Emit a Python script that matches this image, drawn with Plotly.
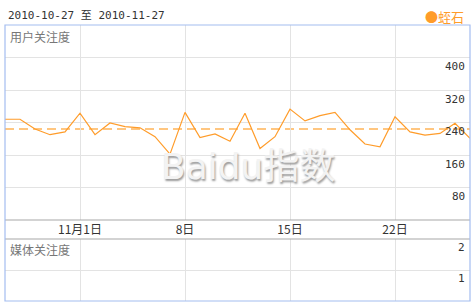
import plotly.graph_objects as go
import pandas as pd

W, H = 475, 307

start_date = "2010-10-27"
end_date = "2010-11-27"
user_attention = [248, 248, 224, 210, 217, 263, 210, 239, 230, 227, 205, 162,
                  265, 203, 212, 194, 263, 176, 205, 273, 244, 257, 265, 222,
                  187, 180, 254, 217, 209, 213, 238, 201]
dates = pd.date_range(start_date, periods=len(user_attention), freq="D")
avg_value = sum(user_attention) / len(user_attention)

x_tick_dates = ["2010-11-01", "2010-11-08", "2010-11-15", "2010-11-22"]
x_tick_text = ["11月1日", "8日", "15日", "22日"]
upper_ticks = [80, 160, 240, 320, 400]
lower_ticks = [1, 2]
upper_range = [0, 480]
lower_range = [0, 2]
series_name = "蛭石"

def px_x(x):
    return x / W

def px_y(y):
    return 1 - y / H

LEFT, RIGHT, TOP, MID1, MID2, BOTTOM = 5, 470, 25, 220, 239, 301
ORANGE = "#ff9c2a"
GRID = "#e3e3e3"
BLUE = "#a4bdf0"
MONO = "DejaVu Sans Mono, Noto Sans CJK SC"
CJK = "Noto Sans CJK SC, DejaVu Sans"

fig = go.Figure()
fig.add_trace(go.Scatter(x=dates, y=user_attention, mode="lines",
                         line=dict(color=ORANGE, width=1.2),
                         xaxis="x", yaxis="y", showlegend=False, hoverinfo="skip"))
fig.add_trace(go.Scatter(x=[dates[0], dates[-1]], y=[None, None], mode="lines",
                         xaxis="x2", yaxis="y2", showlegend=False, hoverinfo="skip"))

xcommon = dict(range=[dates[0], dates[-1]], tickvals=x_tick_dates, showgrid=True,
               gridcolor=GRID, gridwidth=1, zeroline=False, showline=False,
               ticks="", domain=[px_x(LEFT), px_x(RIGHT)])

fig.update_layout(
    width=W, height=H, margin=dict(l=0, r=0, t=0, b=0),
    paper_bgcolor="white", plot_bgcolor="white",
    xaxis=dict(**xcommon, anchor="y", ticktext=x_tick_text, showticklabels=True,
               tickfont=dict(family=CJK, size=12, color="#333"), ticklabelstandoff=1),
    xaxis2=dict(**xcommon, anchor="y2", matches="x", showticklabels=False),
    yaxis=dict(range=upper_range, domain=[px_y(MID1), px_y(TOP)], tickvals=upper_ticks,
               showgrid=True, gridcolor=GRID, showticklabels=False, zeroline=False,
               showline=False, ticks=""),
    yaxis2=dict(range=lower_range, domain=[px_y(BOTTOM), px_y(MID2)], tickvals=lower_ticks,
                showgrid=True, gridcolor=GRID, showticklabels=False, zeroline=False,
                showline=False, ticks=""),
)

shapes = []
shapes.append(dict(type="line", xref="paper", yref="y", x0=px_x(LEFT), x1=px_x(RIGHT),
                   y0=avg_value, y1=avg_value,
                   line=dict(color="#ffc680", width=2, dash="9px,5px"), layer="below"))
for yy in (MID1, MID2):
    shapes.append(dict(type="line", xref="paper", yref="paper", x0=px_x(LEFT), x1=px_x(RIGHT),
                       y0=px_y(yy), y1=px_y(yy), line=dict(color="#a8a8a8", width=1.2)))
shapes.append(dict(type="rect", xref="paper", yref="paper", x0=px_x(LEFT), x1=px_x(RIGHT),
                   y0=px_y(BOTTOM), y1=px_y(TOP), line=dict(color=BLUE, width=1.2)))
fig.update_layout(shapes=shapes)

ann = []
ann.append(dict(text=f"{start_date} 至 {end_date}", xref="paper", yref="paper",
                x=px_x(6), y=px_y(15), xanchor="left", yanchor="middle", showarrow=False,
                font=dict(family=MONO, size=11, color="#333")))
ann.append(dict(text=f"●{series_name}", xref="paper", yref="paper",
                x=px_x(466), y=px_y(16), xanchor="right", yanchor="middle", showarrow=False,
                font=dict(family=CJK, size=13, color=ORANGE)))
ann.append(dict(text="用户关注度", xref="paper", yref="paper", x=px_x(8), y=px_y(36),
                xanchor="left", yanchor="middle", showarrow=False,
                font=dict(family=CJK, size=12, color="#777")))
ann.append(dict(text="媒体关注度", xref="paper", yref="paper", x=px_x(8), y=px_y(249),
                xanchor="left", yanchor="middle", showarrow=False,
                font=dict(family=CJK, size=12, color="#777")))
for v in upper_ticks:
    ann.append(dict(text=str(v), xref="paper", yref="y", x=px_x(467), y=v, yshift=-9,
                    xanchor="right", yanchor="middle", showarrow=False,
                    font=dict(family=MONO, size=11, color="#333")))
for v in lower_ticks:
    ann.append(dict(text=str(v), xref="paper", yref="y2", x=px_x(467), y=v, yshift=-8,
                    xanchor="right", yanchor="middle", showarrow=False,
                    font=dict(family=MONO, size=11, color="#333")))
# watermark with soft shadow
ann.append(dict(text="Baidu指数", xref="paper", yref="paper", x=px_x(248), y=px_y(166),
                xanchor="center", yanchor="middle", showarrow=False,
                font=dict(family="DejaVu Sans, Noto Sans CJK SC", size=36, color="#f3f3f3",
                          shadow="1px 2px 2px #9a9a9a")))
fig.update_layout(annotations=ann)

fig.write_html("out.html")
